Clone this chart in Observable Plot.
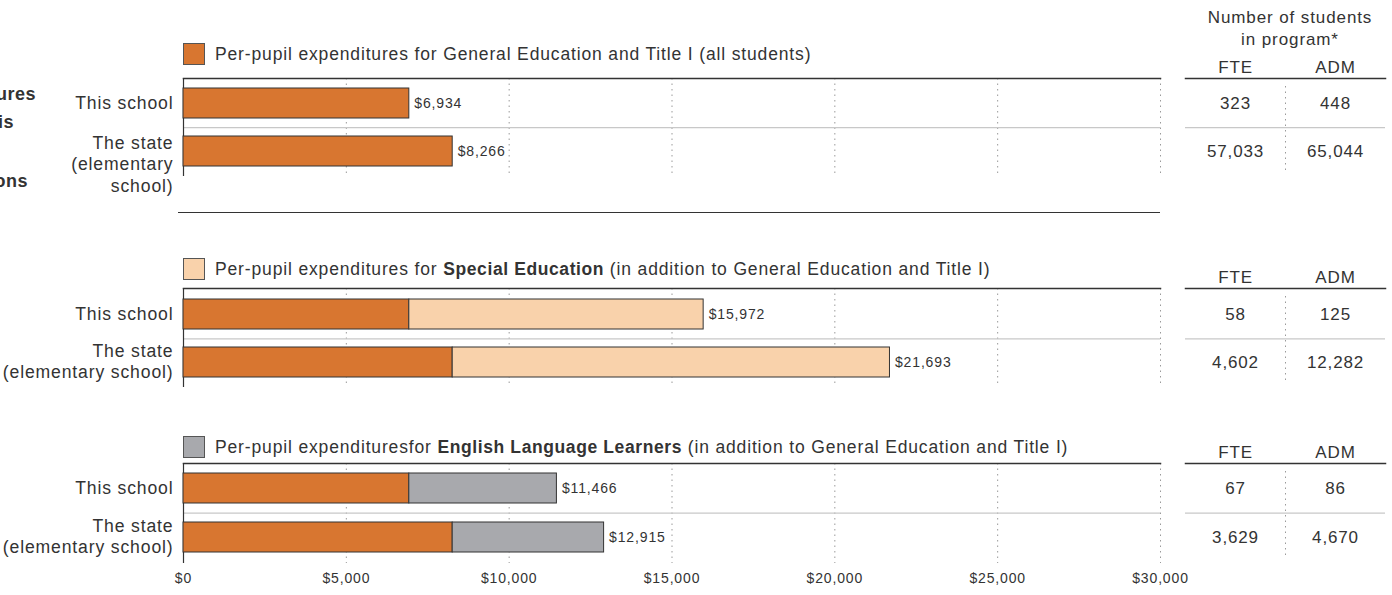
<!DOCTYPE html>
<html>
<head>
<meta charset="utf-8">
<script src="https://cdn.jsdelivr.net/npm/d3@7"></script>
<script src="https://cdn.jsdelivr.net/npm/@observablehq/plot@0.6"></script>
<style>
  body { margin: 0; background: #fff; }
  #root { position: relative; width: 1392px; height: 595px; overflow: hidden;
          font-family: "Liberation Sans", Arial, sans-serif; color: #333; }
  #root svg { overflow: visible; display: block; }
  #root svg text { letter-spacing: 0.85px; }
  #root svg text.ylab { letter-spacing: 1px; }
  .abs { position: absolute; white-space: nowrap; }
  .legend { display: flex; align-items: center; height: 22px; font-size: 17.5px; letter-spacing: 0.85px; }
  .legend b { letter-spacing: 0.6px; }
  .swatch { width: 20px; height: 20px; border: 1px solid #555; margin-right: 10px; }
  .hdr { font-size: 17px; letter-spacing: 0.9px; text-align: center; line-height: 22px; }
  .ttl { font-size: 18px; font-weight: bold; letter-spacing: 0.5px; text-align: right; }
</style>
</head>
<body>
<div id="root"></div>
<script>
// ---------- data ----------
const rows = ["This school", "The state"];
const generalEd = [6934, 8266];
const specialEdTotal = [15972, 21693];
const ellTotal = [11466, 12915];
const fteGeneral = [323, 57033];
const admGeneral = [448, 65044];
const fteSpecial = [58, 4602];
const admSpecial = [125, 12282];
const fteEll = [67, 3629];
const admEll = [86, 4670];
const xTicks = [0, 5000, 10000, 15000, 20000, 25000, 30000];
const tableCols = ["FTE", "ADM"];
const legendTexts = [
  "Per-pupil expenditures for General Education and Title I (all students)",
  "Per-pupil expenditures for <b>Special Education</b> (in addition to General Education and Title I)",
  "Per-pupil expendituresfor <b>English Language Learners</b> (in addition to General Education and Title I)"
];
const colGeneral = "#d87630", colSpecial = "#f9d2ab", colEll = "#a8a9ad";

// ---------- layout ----------
const root = document.getElementById("root");
const fmtMoney = d3.format("$,");
const fmtNum = d3.format(",");
const PAD = 0.38, INSET = 10;
const plotStyle = {fontFamily: "'Liberation Sans', Arial, sans-serif", fontSize: "17px", color: "#333", background: "transparent", overflow: "visible"};

function place(el, left, top) {
  const d = document.createElement("div");
  d.className = "abs";
  d.style.left = left + "px";
  d.style.top = top + "px";
  d.appendChild(el);
  root.appendChild(d);
  return d;
}
function html(str, cls, left, top, extra) {
  const d = document.createElement("div");
  d.className = "abs " + (cls || "");
  d.style.left = left + "px";
  d.style.top = top + "px";
  d.innerHTML = str;
  if (extra) Object.assign(d.style, extra);
  root.appendChild(d);
  return d;
}

const panels = [
  {line: 78, inner: 98, mb: 24, legendTop: 43, legend: legendTexts[0], swatch: colGeneral,
   stateLabel: "The state\n(elementary\nschool)", stateDy: 12, total: null, extraColor: null,
   fte: fteGeneral, adm: admGeneral, axis: false},
  {line: 288, inner: 99, mb: 12, legendTop: 258, legend: legendTexts[1], swatch: colSpecial,
   stateLabel: "The state\n(elementary school)", stateDy: -2, total: specialEdTotal, extraColor: colSpecial,
   fte: fteSpecial, adm: admSpecial, axis: false},
  {line: 463, inner: 100, mb: 30, legendTop: 436, legend: legendTexts[2], swatch: colEll,
   stateLabel: "The state\n(elementary school)", stateDy: -2, total: ellTotal, extraColor: colEll,
   fte: fteEll, adm: admEll, axis: true}
];

for (const p of panels) {
  const mt = 5;
  const step = (p.inner - 2 * INSET) / (2 - PAD);
  const labels = {"This school": "This school", "The state": p.stateLabel};
  const totals = p.total || generalEd;
  const marks = [
    Plot.gridX({ticks: xTicks.slice(1), stroke: "#9a9a9a", strokeOpacity: 1, strokeDasharray: "1.5,4"}),
    Plot.ruleY([rows[0]], {y: d => d, dy: step / 2, stroke: "#c8c8c8", strokeWidth: 1.2}),
    Plot.frame({anchor: "top", stroke: "#333", strokeWidth: 1.5}),
    Plot.ruleX([0], {stroke: "#333", strokeWidth: 1.2}),
    Plot.barX(rows, {y: rows, x1: 0, x2: generalEd, fill: colGeneral, stroke: "#333", strokeWidth: 1})
  ];
  if (p.total) {
    marks.push(Plot.barX(rows, {y: rows, x1: generalEd, x2: p.total, fill: p.extraColor, stroke: "#333", strokeWidth: 1}));
  }
  marks.push(
    Plot.text(rows, {y: rows, x: totals, text: totals.map(fmtMoney), textAnchor: "start", dx: 5, fontSize: 14, fill: "#333"}),
    Plot.axisY({ticks: [rows[0]], tickSize: 0, tickPadding: 10, fontSize: 17.6, className: "ylab", tickFormat: k => labels[k]}),
    Plot.axisY({ticks: [rows[1]], tickSize: 0, tickPadding: 10, fontSize: 17.6, className: "ylab", lineHeight: 1.24, dy: p.stateDy, tickFormat: k => labels[k]})
  );
  if (p.axis) {
    marks.push(Plot.axisX({ticks: xTicks, tickFormat: fmtMoney, tickSize: 0, tickPadding: 10, fontSize: 14, label: null}));
  }
  const chart = Plot.plot({
    width: 1392, height: mt + p.inner + p.mb,
    marginTop: mt, marginBottom: p.mb, marginLeft: 183, marginRight: 232,
    style: plotStyle,
    x: {domain: [0, 30000], label: null, ...(p.axis ? {} : {axis: null})},
    y: {type: "band", domain: rows, paddingInner: PAD, paddingOuter: 0, insetTop: INSET, insetBottom: INSET, label: null},
    marks
  });
  place(chart, 0, p.line - mt);

  // table of student counts
  const tmt = 30;
  const cells = rows.flatMap((r, i) => [{row: r, col: tableCols[0], v: p.fte[i]}, {row: r, col: tableCols[1], v: p.adm[i]}]);
  const table = Plot.plot({
    width: 200, height: tmt + p.inner + p.mb,
    marginTop: tmt, marginBottom: p.mb, marginLeft: 0, marginRight: 0,
    style: plotStyle,
    x: {type: "band", domain: tableCols, padding: 0, label: null},
    y: {type: "band", domain: rows, paddingInner: PAD, paddingOuter: 0, insetTop: INSET, insetBottom: INSET, axis: null, label: null},
    marks: [
      Plot.frame({anchor: "top", stroke: "#333", strokeWidth: 1.5}),
      Plot.ruleY([rows[0]], {y: d => d, dy: step / 2, stroke: "#c8c8c8", strokeWidth: 1.2}),
      Plot.ruleX([tableCols[1]], {x: d => d, dx: -50, stroke: "#9a9a9a", strokeDasharray: "1.5,4", insetTop: 8, insetBottom: 6}),
      Plot.axisX({anchor: "top", tickSize: 0, tickPadding: 6, fontSize: 17, label: null}),
      Plot.text(cells, {x: "col", y: "row", text: d => fmtNum(d.v), fontSize: 17, fill: "#333"})
    ]
  });
  place(table, 1185, p.line - tmt);

  // legend
  html(`<div class="swatch" style="background:${p.swatch}"></div><span>${p.legend}</span>`, "legend", 183, p.legendTop);
}

// header over the table
html("Number of students<br>in program*", "hdr", 1190, 7, {width: "200px"});

// separator line between general and additional sections
html("", "", 178, 212, {width: "982px", borderTop: "1.5px solid #333"});

// clipped title at the left edge
html("Per-pupil expenditures", "ttl", -300, 84, {width: "336px"});
html("for this", "ttl", -300, 112, {width: "314px"});
html("and operations", "ttl", -300, 171, {width: "328px"});
</script>
</body>
</html>
